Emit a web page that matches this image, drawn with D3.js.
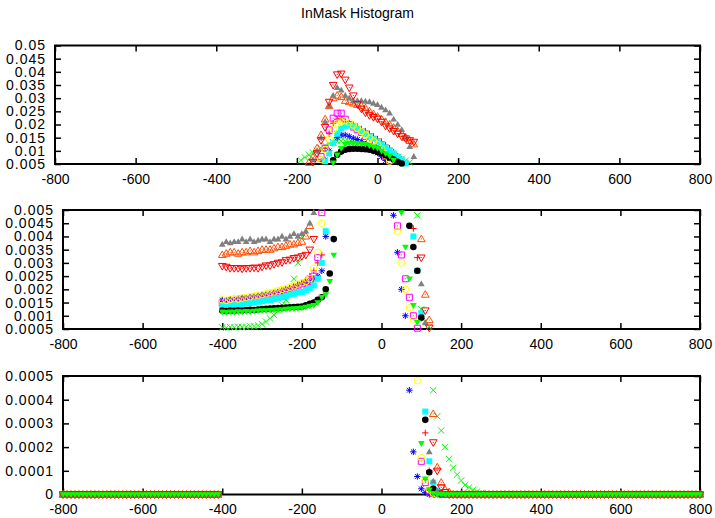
<!DOCTYPE html>
<html><head><meta charset="utf-8">
<script src="https://cdn.jsdelivr.net/npm/d3@7"></script>
<style>
body{margin:0;background:#fff;}
svg{display:block;font-family:"Liberation Sans",Arial,Helvetica,sans-serif;}
</style></head><body>
<svg id="c" width="715" height="518"></svg>
<script>
const title = "InMask Histogram";
const binStart = -800, binEnd = 800, binStep = 10;
// bins -800 .. -410 (all series zero)
const zerosBelow = [0,0,0,0,0,0,0,0,0,0,0,0,0,0,0,0,0,0,0,0,0,0,0,0,0,0,0,0,0,0,0,0,0,0,0,0,0,0,0,0];
// bins 260 .. 800 (all series zero)
const zerosAbove = [0,0,0,0,0,0,0,0,0,0,0,0,0,0,0,0,0,0,0,0,0,0,0,0,0,0,0,0,0,0,0,0,0,0,0,0,0,0,0,0,0,0,0,0,0,0,0,0,0,0,0,0,0,0,0];
// bins -400 .. 250
const sRedPlus = [0.00155,0.00158,0.0016,0.00158,0.00162,0.00165,0.00163,0.00168,0.0017,0.00172,0.00175,0.00178,0.0018,0.00185,0.00188,0.00192,0.00198,0.00203,0.0021,0.00218,
0.00225,0.00235,0.0025,0.0027,0.003,0.0033,0.006,0.011,0.0165,0.0205,
0.022,0.0222,0.021,0.0205,0.02,0.0192,0.0183,0.0175,0.0165,0.0155,
0.0145,0.0135,0.0122,0.011,0.0095,0.008,0.0067,0.0054,0.0043,0.0032,
0.0009,0.00026,0.0001,0.00003,0.00001,0,0,0,0,0,
0,0,0,0,0,0];
const sGreenCross = [0.00056,0.00055,0.00057,0.00056,0.00058,0.00057,0.00058,0.0006,0.0006,0.00063,0.00068,0.00078,0.0009,0.00103,0.0012,0.0014,0.0016,0.0019,0.0024,0.003,
0.004,0.0064,0.0075,0.0085,0.0093,0.01,0.011,0.012,0.0128,0.0133,
0.0136,0.0137,0.0136,0.0134,0.013,0.0127,0.0123,0.0118,0.0113,0.0108,
0.0102,0.0097,0.009,0.0085,0.008,0.0075,0.007,0.0063,0.0056,0.0048,
0.00125,0.0008,0.00058,0.00044,0.00033,0.00027,0.0002,0.00015,0.000113,0.000084,
0.000059,0.00004,0.00003,0.00002,0.000012,0.000006];
const sBlueStar = [0.0016,0.00158,0.00162,0.0016,0.00165,0.00168,0.00166,0.0017,0.00172,0.00175,0.00178,0.0018,0.00183,0.00187,0.0019,0.00195,0.002,0.00205,0.0021,0.00215,
0.0022,0.00225,0.0023,0.0024,0.0025,0.0027,0.004,0.0065,0.01,0.013,
0.015,0.016,0.016,0.0155,0.0148,0.0143,0.0135,0.0125,0.0115,0.0103,
0.0092,0.0078,0.0063,0.0048,0.0034,0.002,0.001,0.00044,0.00018,0.000076,
0.000024,0.000008,0,0,0,0,0,0,0,0,
0,0,0,0,0,0];
const sMagentaSquare = [0.00147,0.0015,0.00148,0.00152,0.0015,0.00155,0.00157,0.0016,0.00158,0.00163,0.00166,0.0017,0.00172,0.00176,0.0018,0.00185,0.0019,0.00195,0.002,0.00205,
0.0021,0.0022,0.0023,0.0025,0.0032,0.0049,0.0078,0.011,0.018,0.0224,
0.0243,0.0243,0.022,0.02,0.019,0.018,0.017,0.0155,0.014,0.0125,
0.011,0.0093,0.0078,0.0062,0.0044,0.0033,0.0024,0.0017,0.001,0.00053,
0.00014,0.00005,0.000015,0.000005,0,0,0,0,0,0,
0,0,0,0,0,0];
const sCyanSquare = [0.0014,0.00138,0.00142,0.0014,0.00143,0.00145,0.00147,0.00148,0.0015,0.00153,0.00155,0.00158,0.0016,0.00163,0.00167,0.0017,0.00175,0.0018,0.00183,0.00188,
0.0019,0.00197,0.00205,0.00215,0.0024,0.003,0.0042,0.006,0.009,0.013,
0.0165,0.0185,0.0195,0.0197,0.0192,0.0183,0.0175,0.0165,0.0155,0.0145,
0.0135,0.0125,0.0113,0.0102,0.009,0.0078,0.0066,0.0052,0.004,0.0027,
0.0011,0.00035,0.00014,0.00005,0.000015,0.000005,0,0,0,0,
0,0,0,0,0,0];
const sYellowCircle = [0.0016,0.00158,0.00162,0.00165,0.00163,0.00167,0.0017,0.00172,0.00175,0.00178,0.0018,0.00183,0.00187,0.0019,0.00195,0.002,0.00203,0.00208,0.00213,0.0022,
0.00225,0.0023,0.0024,0.0028,0.0034,0.0045,0.0068,0.0105,0.0145,0.018,
0.0205,0.021,0.0215,0.0208,0.0198,0.0186,0.0173,0.016,0.0148,0.0136,
0.0124,0.0108,0.0083,0.0061,0.0042,0.003,0.002,0.0013,0.00084,0.00048,
0.000155,0.00006,0.00002,0.000006,0,0,0,0,0,0,
0,0,0,0,0,0];
const sBlackCircle = [0.0012,0.00118,0.0012,0.00119,0.00121,0.0012,0.00122,0.00123,0.00122,0.00124,0.00125,0.00126,0.00127,0.00128,0.00129,0.0013,0.00131,0.00132,0.00133,0.00134,
0.00135,0.0014,0.00145,0.0015,0.0016,0.0017,0.002,0.0026,0.0039,0.0064,
0.0085,0.0097,0.0104,0.0107,0.0108,0.0108,0.0107,0.0106,0.0104,0.01,
0.0096,0.0091,0.0083,0.0075,0.0067,0.0058,0.0052,0.0044,0.0036,0.0027,
0.00093,0.000315,0.000094,0.000024,0.000006,0,0,0,0,0,
0,0,0,0,0,0];
const sOrangeTriangle = [0.0033,0.00335,0.0034,0.0034,0.00335,0.0034,0.0034,0.00345,0.0034,0.00345,0.0035,0.0035,0.0035,0.00355,0.0036,0.0036,0.00365,0.0037,0.0037,0.00375,
0.0038,0.004,0.0044,0.0055,0.0075,0.011,0.016,0.022,0.027,0.03,
0.031,0.0305,0.029,0.0285,0.028,0.0275,0.027,0.0262,0.025,0.024,
0.023,0.022,0.021,0.02,0.0188,0.0175,0.0165,0.015,0.0138,0.0125,
0.0039,0.0018,0.00084,0.00034,0.000115,0.00005,0.00002,0.00001,0,0,
0,0,0,0,0,0];
const sGrayTriangle = [0.0037,0.0038,0.00375,0.0038,0.0038,0.0039,0.0038,0.0039,0.0038,0.00385,0.0039,0.0039,0.0038,0.0039,0.0039,0.004,0.0039,0.004,0.0041,0.004,
0.0041,0.0042,0.0045,0.0049,0.0065,0.01,0.015,0.021,0.027,0.031,
0.034,0.033,0.031,0.03,0.029,0.029,0.029,0.0288,0.0286,0.028,
0.0275,0.0265,0.0255,0.0243,0.022,0.02,0.018,0.015,0.0116,0.0078,
0.0022,0.00073,0.00018,0.000056,0.000015,0.000004,0,0,0,0,
0,0,0,0,0,0];
const sRedTriangleDown = [0.00288,0.00285,0.0028,0.0028,0.0028,0.00278,0.0028,0.0028,0.00282,0.0028,0.00285,0.0029,0.0029,0.00295,0.003,0.00302,0.0031,0.00312,0.00318,0.0032,
0.00325,0.0033,0.0035,0.0039,0.0058,0.009,0.014,0.019,0.0286,0.035,
0.039,0.0393,0.037,0.034,0.031,0.0278,0.026,0.0245,0.0235,0.0228,
0.0222,0.021,0.0195,0.0185,0.0175,0.0165,0.0155,0.0147,0.014,0.0134,
0.0032,0.0012,0.00055,0.00022,0.0001,0.00003,0.00001,0,0,0,
0,0,0,0,0,0];
const sGreenTriangleDown = [0.00115,0.00113,0.00115,0.00114,0.00116,0.00115,0.00117,0.00116,0.00118,0.00119,0.0012,0.0012,0.00121,0.00122,0.00123,0.00124,0.00125,0.00126,0.00127,0.00128,
0.0013,0.00133,0.00137,0.0014,0.0015,0.0017,0.0018,0.0023,0.0033,0.0055,
0.0085,0.011,0.0125,0.013,0.013,0.0128,0.0127,0.0125,0.012,0.0115,
0.011,0.01,0.009,0.0081,0.0065,0.0049,0.0036,0.0024,0.0014,0.00075,
0.000216,0.000066,0.00002,0.000005,0,0,0,0,0,0,
0,0,0,0,0,0];

const seriesValues = [sRedPlus, sGreenCross, sBlueStar, sMagentaSquare, sCyanSquare, sYellowCircle,
  sBlackCircle, sOrangeTriangle, sGrayTriangle, sRedTriangleDown, sGreenTriangleDown];
const seriesColors = ["#ff0000","#00ff00","#0000ff","#ff00ff","#00ffff","#ffff00","#000000","#ff4d00","#808080","#ff0000","#00ff00"];
const seriesSymbols = ["plus","cross","star","square","squareF","circle","circleF","tri","triF","triD","triDF"];

const xTickValues = [-800,-600,-400,-200,0,200,400,600,800];
const yLabels1 = ["0.005","0.01","0.015","0.02","0.025","0.03","0.035","0.04","0.045","0.05"];
const yLabels2 = ["0.0005","0.001","0.0015","0.002","0.0025","0.003","0.0035","0.004","0.0045","0.005"];
const yLabels3 = ["0","0.0001","0.0002","0.0003","0.0004","0.0005"];

const bins = d3.range(binStart, binEnd + 1, binStep);
const series = seriesValues.map((s, i) => {
  const vals = zerosBelow.concat(s, zerosAbove);
  return { color: seriesColors[i], sym: seriesSymbols[i], pts: bins.map((b, k) => ({ x: b, v: vals[k] })) };
});

const panels = [
  { left: 55, right: 700, top: 45.5, bottom: 164, labels: yLabels1 },
  { left: 63, right: 700, top: 210, bottom: 329, labels: yLabels2 },
  { left: 63, right: 700, top: 376, bottom: 494.5, labels: yLabels3 }
];

const svg = d3.select("#c");
svg.append("rect").attr("width", 715).attr("height", 518).attr("fill", "#fff");
svg.append("text").attr("x", 357.5).attr("y", 18).attr("text-anchor", "middle")
  .style("font-size", "14px").text(title);

function symPath(t, cx, cy) {
  const s = 3.2;
  switch (t) {
    case "plus": return `M${cx-s},${cy}H${cx+s}M${cx},${cy-s}V${cy+s}`;
    case "cross": return `M${cx-s},${cy-s}L${cx+s},${cy+s}M${cx-s},${cy+s}L${cx+s},${cy-s}`;
    case "star": return `M${cx-s},${cy}H${cx+s}M${cx},${cy-s}V${cy+s}M${cx-s*0.75},${cy-s*0.75}L${cx+s*0.75},${cy+s*0.75}M${cx-s*0.75},${cy+s*0.75}L${cx+s*0.75},${cy-s*0.75}`;
    case "square": case "squareF": return `M${cx-3},${cy-3}H${cx+3}V${cy+3}H${cx-3}Z`;
    case "circle": case "circleF": { const r = 3.3; return `M${cx-r},${cy}A${r},${r} 0 1,0 ${cx+r},${cy}A${r},${r} 0 1,0 ${cx-r},${cy}Z`; }
    case "tri": return `M${cx},${cy-4}L${cx+3.8},${cy+2.6}L${cx-3.8},${cy+2.6}Z`;
    case "triF": return `M${cx},${cy-3.6}L${cx+3.4},${cy+2.3}L${cx-3.4},${cy+2.3}Z`;
    case "triD": return `M${cx},${cy+4}L${cx+3.8},${cy-2.6}L${cx-3.8},${cy-2.6}Z`;
    case "triDF": return `M${cx},${cy+3.6}L${cx+3.4},${cy-2.3}L${cx-3.4},${cy-2.3}Z`;
  }
}
const filled = { squareF: 1, circleF: 1, triF: 1, triDF: 1 };
const hollow = { square: 1, circle: 1, tri: 1, triD: 1 };

panels.forEach(p => {
  const yTicks = p.labels.map(Number);
  const yMin = yTicks[0], yMax = yTicks[yTicks.length - 1];
  const x = d3.scaleLinear().domain([-800, 800]).range([p.left, p.right]);
  const y = d3.scaleLinear().domain([yMin, yMax]).range([p.bottom, p.top]);
  const g = svg.append("g");

  const xb = g.append("g").attr("transform", `translate(0,${p.bottom})`)
      .call(d3.axisBottom(x).tickValues(xTickValues).tickFormat(d => String(d)).tickSizeInner(-6).tickSizeOuter(0).tickPadding(10));
  const xt = g.append("g").attr("transform", `translate(0,${p.top})`)
      .call(d3.axisTop(x).tickValues(xTickValues).tickFormat("").tickSizeInner(-6).tickSizeOuter(0));
  const yl = g.append("g").attr("transform", `translate(${p.left},0)`)
      .call(d3.axisLeft(y).tickValues(yTicks).tickFormat((d, i) => p.labels[i]).tickSizeInner(-6).tickSizeOuter(0).tickPadding(9));
  const yr = g.append("g").attr("transform", `translate(${p.right},0)`)
      .call(d3.axisRight(y).tickValues(yTicks).tickFormat("").tickSizeInner(-6).tickSizeOuter(0));
  [xb, xt, yl, yr].forEach(a => {
    a.select(".domain").remove();
    a.selectAll(".tick line").attr("stroke", "#000").attr("stroke-width", 1.5);
    a.selectAll(".tick text").attr("fill", "#000").style("font-size", "14px").style("font-family", "'Liberation Sans',Arial,Helvetica,sans-serif");
  });
  yl.selectAll(".tick text").style("letter-spacing", "1px");
  g.append("rect").attr("x", p.left).attr("y", p.top).attr("width", p.right - p.left).attr("height", p.bottom - p.top)
    .attr("fill", "none").attr("stroke", "#000").attr("stroke-width", 2);

  series.forEach(s => {
    const pts = s.pts.filter(d => d.v >= yMin - 1e-12 && d.v <= yMax + 1e-12);
    const sg = g.append("g");
    sg.selectAll("path").data(pts).enter().append("path")
      .attr("d", d => symPath(s.sym, x(d.x), y(d.v)))
      .attr("fill", filled[s.sym] ? s.color : "none")
      .attr("stroke", filled[s.sym] ? "none" : s.color)
      .attr("stroke-width", 1);
    if (hollow[s.sym]) {
      sg.selectAll("rect").data(pts).enter().append("rect")
        .attr("x", d => x(d.x) - 0.5).attr("y", d => y(d.v) - 0.5)
        .attr("width", 1).attr("height", 1).attr("fill", s.color);
    }
  });
});
</script>
</body></html>
